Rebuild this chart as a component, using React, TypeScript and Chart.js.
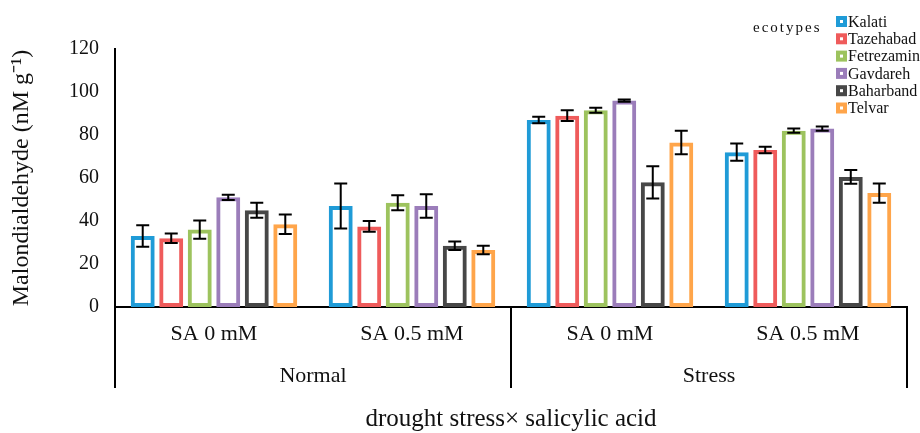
import React, { useEffect, useRef } from "react";
import { Chart, registerables } from "chart.js";

Chart.register(...registerables);

const categories = ["SA 0 mM", "SA 0.5 mM", "SA 0 mM", "SA 0.5 mM"];
const groups = ["Normal", "Stress"];
const ecotypes = ["Kalati", "Tazehabad", "Fetrezamin", "Gavdareh", "Baharband", "Telvar"];
const colors = ["#1f9bd7", "#ef5b5b", "#9dc35e", "#9b7dba", "#474747", "#ffa54a"];

const kalati = [33, 47, 87, 72];
const tazehabad = [32, 37.5, 89, 73];
const fetrezamin = [36, 48.5, 91.5, 82];
const gavdareh = [51, 47, 96, 83];
const baharband = [45, 28.5, 58, 60.5];
const telvar = [38.5, 26.5, 76.5, 53];

const kalatiErr = [5, 10.5, 1.5, 4];
const tazehabadErr = [2.2, 2.5, 2.5, 1.5];
const fetrezaminErr = [4.2, 3.5, 1.2, 1];
const gavdarehErr = [1.2, 5.5, 0.5, 1];
const baharbandErr = [3.5, 2, 7.5, 3.2];
const telvarErr = [4.5, 2, 5.5, 4.5];

const yTicks = [0, 20, 40, 60, 80, 100, 120];
const yTitle = "Malondialdehyde (nM g\u207B\u00B9)";
const xTitle = "drought stress\u00D7 salicylic acid";
const legendTitle = "ecotypes";

const values = [kalati, tazehabad, fetrezamin, gavdareh, baharband, telvar];
const errors = [kalatiErr, tazehabadErr, fetrezaminErr, gavdarehErr, baharbandErr, telvarErr];

const SERIF = "'Liberation Serif', 'Times New Roman', serif";

const extrasPlugin = {
  id: "extras",
  afterDatasetsDraw(chart: any) {
    const ctx = chart.ctx;
    const y = chart.scales.y;
    ctx.save();
    ctx.strokeStyle = "#000";
    ctx.lineWidth = 2;
    chart.data.datasets.forEach((ds: any, i: number) => {
      const meta = chart.getDatasetMeta(i);
      meta.data.forEach((el: any, j: number) => {
        const v = ds.data[j];
        const e = ds.errors[j];
        const x = el.x;
        const t = y.getPixelForValue(v + e);
        const b = y.getPixelForValue(v - e);
        const cap = 6.5;
        ctx.beginPath();
        ctx.moveTo(x, t);
        ctx.lineTo(x, b);
        ctx.moveTo(x - cap, t);
        ctx.lineTo(x + cap, t);
        ctx.moveTo(x - cap, b);
        ctx.lineTo(x + cap, b);
        ctx.stroke();
      });
    });
    ctx.restore();
  },
  afterDraw(chart: any) {
    const ctx = chart.ctx;
    const xs = chart.scales.x;
    const area = chart.chartArea;
    ctx.save();
    // group separators
    const mid = (xs.getPixelForValue(1) + xs.getPixelForValue(2)) / 2;
    const bottomLine = 388;
    ctx.strokeStyle = "#000";
    ctx.lineWidth = 2;
    [area.left, mid, area.right].forEach((px) => {
      ctx.beginPath();
      ctx.moveTo(px, area.bottom);
      ctx.lineTo(px, bottomLine);
      ctx.stroke();
    });
    // group labels
    ctx.fillStyle = "#111";
    ctx.font = "22px " + SERIF;
    ctx.textAlign = "center";
    ctx.textBaseline = "middle";
    ctx.fillText(groups[0], (area.left + mid) / 2, 376);
    ctx.fillText(groups[1], (mid + area.right) / 2, 376);
    // x title
    ctx.font = "25px " + SERIF;
    ctx.fillText(xTitle, (area.left + area.right) / 2, 419);
    // y title
    ctx.save();
    ctx.translate(22, 178);
    ctx.rotate(-Math.PI / 2);
    ctx.font = "24px " + SERIF;
    ctx.fillText(yTitle, 0, 0);
    ctx.restore();
    // legend
    ctx.font = "15px " + SERIF;
    (ctx as any).letterSpacing = "2px";
    ctx.textAlign = "left";
    ctx.fillText(legendTitle, 753, 28);
    (ctx as any).letterSpacing = "0px";
    ctx.font = "16px " + SERIF;
    chart.data.datasets.forEach((ds: any, i: number) => {
      const cy = 21.5 + i * 17.3;
      ctx.fillStyle = ds.borderColor;
      ctx.fillRect(836, cy - 5.5, 11, 11);
      ctx.fillStyle = "#fff";
      ctx.fillRect(840, cy - 1.5, 3, 3);
      ctx.fillStyle = "#111";
      ctx.fillText(ds.label, 848, cy + 1);
    });
    ctx.restore();
  },
};

export default function App() {
  const ref = useRef<HTMLCanvasElement>(null);
  useEffect(() => {
    if (!ref.current) return;
    const chart = new Chart(ref.current, {
      type: "bar",
      data: {
        labels: categories,
        datasets: ecotypes.map((name, i) => ({
          label: name,
          data: values[i],
          errors: errors[i],
          backgroundColor: "rgba(255,255,255,0)",
          borderColor: colors[i],
          borderWidth: 4,
          borderSkipped: false,
          categoryPercentage: 0.864,
          barPercentage: 0.84,
        })) as any,
      },
      options: {
        responsive: false,
        animation: false,
        devicePixelRatio: 1,
        layout: { padding: { top: 49, right: 13, left: 0, bottom: 0 } },
        plugins: { legend: { display: false }, tooltip: { enabled: false } },
        scales: {
          x: {
            grid: { display: false, drawTicks: false },
            border: { display: true, color: "#000", width: 2 },
            ticks: {
              color: "#111",
              font: { family: SERIF, size: 22 },
              padding: 14,
              maxRotation: 0,
              autoSkip: false,
            },
            afterFit: (s: any) => {
              s.height = 126;
            },
          },
          y: {
            min: 0,
            max: 120,
            afterBuildTicks: (s: any) => {
              s.ticks = yTicks.map((v) => ({ value: v }));
            },
            grid: { display: false, drawTicks: false },
            border: { display: true, color: "#000", width: 2 },
            ticks: {
              color: "#111",
              font: { family: SERIF, size: 20 },
              padding: 16,
            },
            afterFit: (s: any) => {
              s.width = 115;
            },
          },
        },
      },
      plugins: [extrasPlugin],
    });
    return () => chart.destroy();
  }, []);
  return (
    <div style={{ position: "absolute", left: 0, top: 0, width: 920, height: 433, background: "#fff" }}>
      <canvas ref={ref} width={920} height={433} />
    </div>
  );
}
